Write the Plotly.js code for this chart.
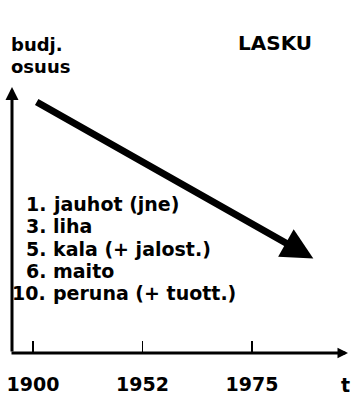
<!DOCTYPE html>
<html><head><meta charset="utf-8">
<script src="https://cdn.plot.ly/plotly-3.0.1.min.js"></script>
<style>html,body{margin:0;padding:0;background:#fff;}#chart{width:352px;height:395px;}</style>
</head><body><div id="chart"></div>
<script>
// ---- data ----
var tickYears = ["1900", "1952", "1975"];
var axisTitleX = "t";
var axisTitleY = ["budj.", "osuus"];
var chartTitle = "LASKU";
var itemRanks = ["1.", "3.", "5.", "6.", "10."];
var itemNames = ["jauhot (jne)", "liha", "kala (+ jalost.)", "maito", "peruna (+ tuott.)"];
// schematic trend: budget share (arbitrary 0-100 scale) at time position (category index)
var trendTime = [0.02, 2.56];
var trendShare = [94.7, 35.5];

// ---- layout helpers ----
var W = 352, H = 395;
var M = {l: 12, r: 4, t: 87, b: 42};
var PW = W - M.l - M.r, PH = H - M.t - M.b;
function px(x) { return (x - M.l) / PW; }
function py(y) { return (H - M.b - y) / PH; }
var FONT = "DejaVu Sans";
function txt(t, x, y, size, xa) {
  return {xref: 'paper', yref: 'paper', x: px(x), y: py(y), text: t, showarrow: false,
    xanchor: xa || 'left', yanchor: 'middle',
    font: {family: FONT, size: size, color: '#000', weight: 'bold'}};
}
var ann = [];
// y axis with arrow
ann.push({xref: 'paper', yref: 'paper', x: 0, y: 1, axref: 'pixel', ayref: 'pixel', ax: 0, ay: PH,
  showarrow: true, arrowhead: 2, arrowwidth: 3, arrowsize: 0.87, arrowcolor: '#000', text: ''});
// x axis with arrow
ann.push({xref: 'paper', yref: 'paper', x: 1, y: 0, axref: 'pixel', ayref: 'pixel', ax: -(PW + 2), ay: 0,
  showarrow: true, arrowhead: 2, arrowwidth: 3, arrowsize: 0.7, arrowcolor: '#000', text: ''});
// trend arrow
ann.push({xref: 'x', yref: 'y', x: trendTime[1], y: trendShare[1], axref: 'x', ayref: 'y',
  ax: trendTime[0], ay: trendShare[0], showarrow: true, arrowhead: 2, arrowwidth: 7,
  arrowsize: 0.9, arrowcolor: '#000', text: ''});
// titles
ann.push(txt(axisTitleY[0], 9, 44, 18));
ann.push(txt(axisTitleY[1], 9, 66, 18));
ann.push(txt(chartTitle, 275, 43, 20, 'center'));
ann.push(txt(axisTitleX, 345, 385, 19, 'center'));
// item list
var lineY0 = 204, lineStep = 22.3;
for (var i = 0; i < itemRanks.length; i++) {
  ann.push(txt(itemRanks[i], 48, lineY0 + i * lineStep, 19, 'right'));
  ann.push(txt(itemNames[i], 51, lineY0 + i * lineStep, 19, 'left'));
}

var trace = {x: tickYears, y: [null, null, null], type: 'scatter', mode: 'markers',
  hoverinfo: 'skip', showlegend: false};

var layout = {
  width: W, height: H, margin: M, showlegend: false,
  paper_bgcolor: '#fff', plot_bgcolor: '#fff',
  font: {family: FONT, color: '#000'},
  xaxis: {type: 'category', categoryorder: 'array', categoryarray: tickYears,
    range: [-21 / 109.5, -21 / 109.5 + PW / 109.5],
    showline: false, showgrid: false, zeroline: false,
    ticks: 'inside', ticklen: 12, tickwidth: 1.5, tickcolor: '#000',
    tickfont: {family: FONT, size: 19, color: '#000', weight: 'bold'},
    ticklabelstandoff: 18, fixedrange: true},
  yaxis: {range: [0, 100], showline: false, showgrid: false, zeroline: false,
    showticklabels: false, ticks: '', fixedrange: true},
  annotations: ann
};
Plotly.newPlot('chart', [trace], layout, {staticPlot: true, displayModeBar: false});
</script></body></html>
